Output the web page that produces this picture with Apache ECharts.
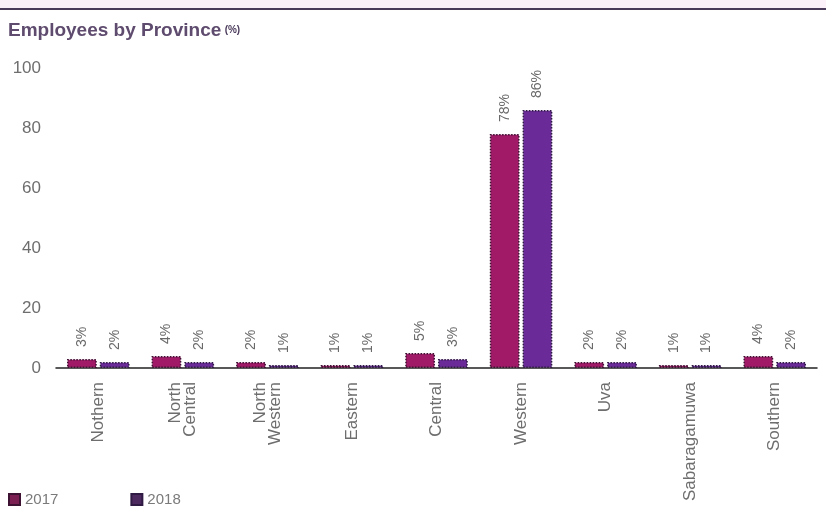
<!DOCTYPE html>
<html>
<head>
<meta charset="utf-8">
<script src="https://cdn.jsdelivr.net/npm/echarts@6/dist/echarts.min.js"></script>
<style>
  html, body { margin: 0; padding: 0; background: #fff; }
  #chart { width: 826px; height: 518px; }
</style>
</head>
<body>
<div id="chart"></div>
<script>
// Employee share per province, in percent
const provinces = ['Nothern', 'North\nCentral', 'North\nWestern', 'Eastern', 'Central', 'Western', 'Uva', 'Sabaragamuwa', 'Southern'];
const values2017 = [3, 4, 2, 1, 5, 78, 2, 1, 4];
const values2018 = [2, 2, 1, 1, 3, 86, 2, 1, 2];
const yTicks = [0, 20, 40, 60, 80, 100];

const FONT = '"Liberation Sans", Arial, sans-serif';

const barLabel = {
  show: true,
  position: 'top',
  rotate: 90,
  align: 'left',
  verticalAlign: 'middle',
  distance: 12,
  formatter: '{c}%',
  color: '#6a6a6a',
  fontFamily: FONT,
  fontSize: 14
};

const chart = echarts.init(document.getElementById('chart'));
chart.setOption({
  animation: false,
  graphic: [
    { type: 'rect', left: 0, top: 0, shape: { width: 826, height: 8 }, style: { fill: '#fbf1f8' } },
    { type: 'rect', left: 0, top: 8, shape: { width: 826, height: 2 }, style: { fill: '#4b3b5b' } },
    {
      type: 'text', left: 8, top: 21,
      style: {
        text: '{t|Employees by Province} {s|(%)}',
        rich: {
          t: { fontFamily: FONT, fontSize: 19, fontWeight: 'bold', fill: '#5e4b6e' },
          s: { fontFamily: FONT, fontSize: 10, fontWeight: 'bold', fill: '#4b3b5b' }
        }
      }
    }
  ],
  grid: { left: 56, right: 9, top: 68, bottom: 150, containLabel: false },
  legend: {
    left: 3, bottom: 6,
    itemWidth: 11, itemHeight: 11, itemGap: 72,
    icon: 'rect',
    textStyle: { color: '#7a7a7a', fontFamily: FONT, fontSize: 15 },
    data: [
      { name: '2017', itemStyle: { color: '#7b1f52' } },
      { name: '2018', itemStyle: { color: '#4c2a60' } }
    ]
  },
  xAxis: {
    type: 'category',
    data: provinces,
    axisLine: { lineStyle: { color: '#222', width: 1.5 } },
    axisTick: { show: false },
    axisLabel: { rotate: 90, color: '#6e6e6e', fontFamily: FONT, fontSize: 17, margin: 14, lineHeight: 15 }
  },
  yAxis: {
    type: 'value',
    min: yTicks[0], max: yTicks[yTicks.length - 1], interval: 20,
    axisLine: { show: false },
    axisTick: { show: false },
    splitLine: { show: false },
    axisLabel: { color: '#6e6e6e', fontFamily: FONT, fontSize: 17, margin: 15 }
  },
  series: [
    {
      name: '2017', type: 'bar', data: values2017,
      barGap: '10%', barCategoryGap: '26%',
      itemStyle: { color: '#a01a68', borderColor: '#3e1232', borderWidth: 1.5, borderType: 'dotted' },
      label: barLabel
    },
    {
      name: '2018', type: 'bar', data: values2018,
      itemStyle: { color: '#6a2b98', borderColor: '#2e1a42', borderWidth: 1.5, borderType: 'dotted' },
      label: barLabel
    }
  ]
});
</script>
</body>
</html>
